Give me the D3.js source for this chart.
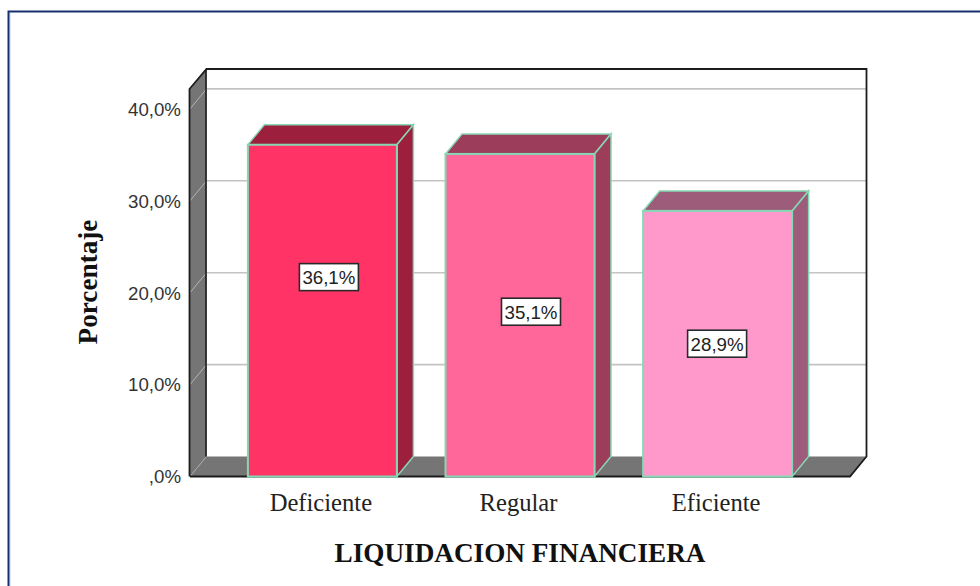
<!DOCTYPE html>
<html><head><meta charset="utf-8">
<script src="https://cdn.jsdelivr.net/npm/d3@7"></script>
<style>html,body{margin:0;padding:0;background:#fff}svg{display:block}</style>
</head><body><svg id="c" width="980" height="586"></svg>
<script>
const categories = ["Deficiente", "Regular", "Eficiente"];
const values = [36.1, 35.1, 28.9];
const valueLabels = ["36,1%", "35,1%", "28,9%"];
const tickValues = [0, 10, 20, 30, 40];
const tickLabels = [",0%", "10,0%", "20,0%", "30,0%", "40,0%"];
const frontColors = ["#ff3366", "#ff6699", "#ff99cc"];
const sideColors = ["#9c1f3d", "#9c3d5c", "#9c5c7a"];
const yTitle = "Porcentaje";
const xTitle = "LIQUIDACION FINANCIERA";

const svg = d3.select("#c");
const dx = 16.5, dy = -20, wallTop = 89;
const x = d3.scaleBand().domain(categories).range([190, 850]).paddingInner(0.246).paddingOuter(0.293);
const y = d3.scaleLinear().domain([0, 40]).range([476.5, 108.9]);
const pts = a => a.map(p => p.join(",")).join(" ");
const y0 = y(0);

// page frame
svg.append("line").attr("x1",10).attr("x2",10).attr("y1",13).attr("y2",586).attr("stroke","#c9d7ef").attr("stroke-width",1);
svg.append("path").attr("d","M8.5,586V11.5H980").attr("fill","none").attr("stroke","#16306f").attr("stroke-width",2);

// walls
const L = x.range()[0], R = x.range()[1];
svg.append("polygon").attr("points", pts([[L,wallTop],[L+dx,wallTop+dy],[L+dx,y0+dy],[L,y0]])).attr("fill","#757575");
svg.append("polygon").attr("points", pts([[L,y0],[L+dx,y0+dy],[R+dx,y0+dy],[R,y0]])).attr("fill","#757575");

// gridlines
const grid = svg.append("g");
tickValues.slice(1).forEach(t => {
  grid.append("line").attr("x1",L+dx).attr("x2",R+dx).attr("y1",y(t)+dy).attr("y2",y(t)+dy).attr("stroke","#c4c4c4").attr("stroke-width",1.6);
  grid.append("line").attr("x1",L).attr("x2",L+dx).attr("y1",y(t)).attr("y2",y(t)+dy).attr("stroke","#b4b4b4").attr("stroke-width",1);
});
svg.append("line").attr("x1",L).attr("x2",L+dx).attr("y1",y0).attr("y2",y0+dy).attr("stroke","#a8a8a8").attr("stroke-width",1);

// frame lines
svg.append("path").attr("d",`M${L-0.5},${y0}V${wallTop}L${L+dx},${wallTop+dy}H${R+dx}V${y0+dy}L${R},${y0}H${L}`)
  .attr("fill","none").attr("stroke","#1c1c1c").attr("stroke-width",1.8);
svg.append("line").attr("x1",L+dx-0.5).attr("x2",L+dx-0.5).attr("y1",wallTop+dy).attr("y2",y0+dy).attr("stroke","#1c1c1c").attr("stroke-width",1.6);

// bars
const bars = svg.append("g").selectAll("g").data(categories).join("g");
const stroke = "#86d8b4";
bars.each(function(c,i){
  const g = d3.select(this), a = x(c), b = a + x.bandwidth(), t = y(values[i]);
  g.append("polygon").attr("points",pts([[a,t],[a+dx,t+dy],[b+dx,t+dy],[b,t]])).attr("fill",sideColors[i]).attr("stroke",stroke).attr("stroke-width",1.5);
  g.append("polygon").attr("points",pts([[b,t],[b+dx,t+dy],[b+dx,y0+dy],[b,y0]])).attr("fill",sideColors[i]).attr("stroke",stroke).attr("stroke-width",1.5);
  g.append("rect").attr("x",a).attr("y",t).attr("width",b-a).attr("height",y0-t).attr("fill",frontColors[i]).attr("stroke",stroke).attr("stroke-width",2);
});

// value labels
const labelShiftX = [6.5, 11, -0.5], labelShiftY = [-33.5, -3.5, 0];
bars.each(function(c,i){
  const g = d3.select(this), cx = x(c) + x.bandwidth()/2 + labelShiftX[i], cy = (y(values[i]) + y0)/2 + labelShiftY[i];
  g.append("rect").attr("x",cx-29.5).attr("y",cy-13.5).attr("width",59).attr("height",27).attr("fill","#fff").attr("stroke","#2a2a2a").attr("stroke-width",1.6);
  g.append("text").attr("x",cx).attr("y",cy+6.8).attr("text-anchor","middle").attr("font-family","'Liberation Sans'").attr("font-size",18.7).attr("fill","#222").text(valueLabels[i]);
});

// y tick labels
svg.append("g").selectAll("text").data(tickValues).join("text")
  .attr("x",181).attr("y",d=>y(d)+6.8).attr("text-anchor","end")
  .attr("font-family","'Liberation Sans'").attr("font-size",18.7).attr("fill","#333")
  .text((d,i)=>tickLabels[i]);

// category labels
svg.append("g").selectAll("text").data(categories).join("text")
  .attr("x",c=>x(c)+x.bandwidth()/2-1.5).attr("y",511).attr("text-anchor","middle")
  .attr("font-family","'Liberation Serif'").attr("font-size",24.6).attr("fill","#222").text(c=>c);

// axis titles
svg.append("text").attr("x",520).attr("y",562).attr("text-anchor","middle")
  .attr("font-family","'Liberation Serif'").attr("font-weight","bold").attr("font-size",27.2).attr("fill","#111").text(xTitle);
svg.append("text").attr("transform","translate(97,282) rotate(-90)").attr("text-anchor","middle")
  .attr("font-family","'Liberation Serif'").attr("font-weight","bold").attr("font-size",27.2).attr("fill","#111").text(yTitle);
</script></body></html>
